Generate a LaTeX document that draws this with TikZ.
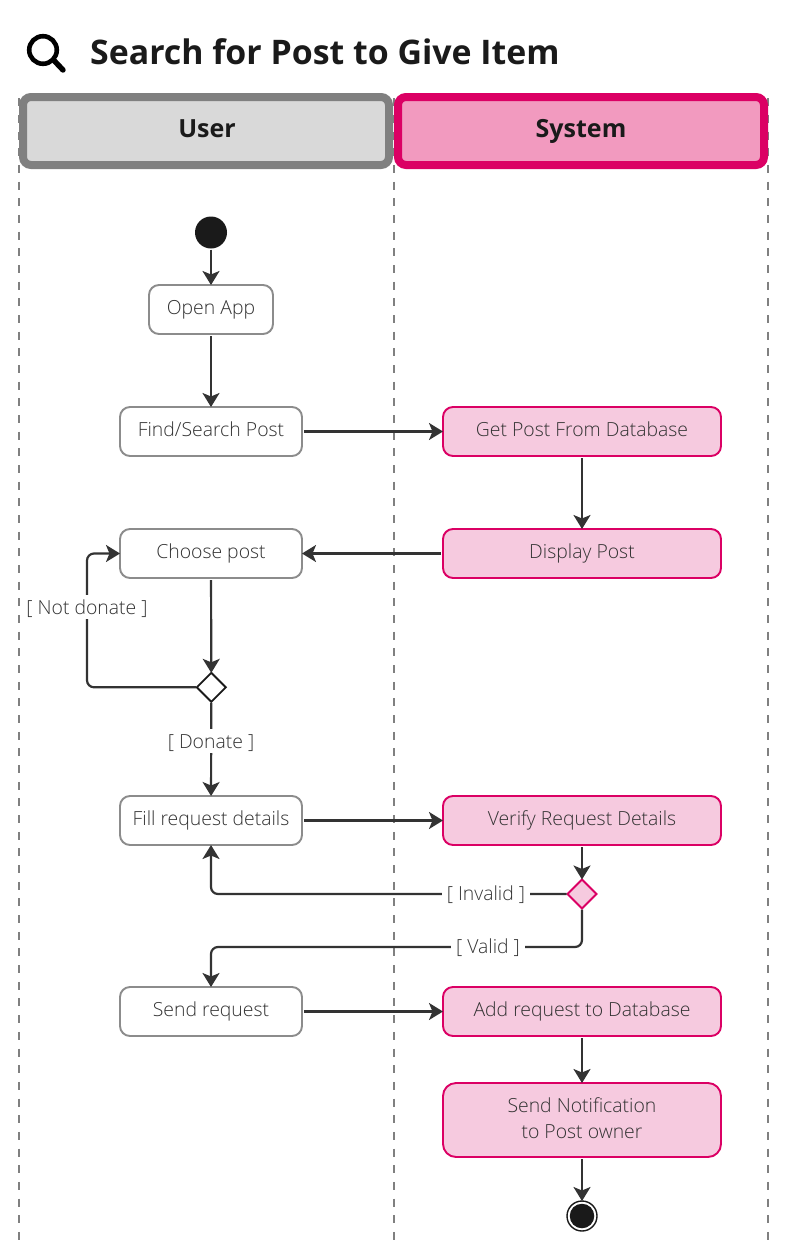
\documentclass[tikz,border=0pt]{standalone}
\usepackage{fontspec}
\setmainfont{Open Sans}
\newfontfamily\lightf{Open Sans Light}
\usetikzlibrary{arrows.meta,shapes.geometric,calc}
\definecolor{ink}{HTML}{333333}
\definecolor{txt}{HTML}{333333}
\definecolor{dark}{HTML}{1A1A1A}
\definecolor{greyb}{HTML}{808080}
\definecolor{greyf}{HTML}{D9D9D9}
\definecolor{boxb}{HTML}{8C8C8C}
\definecolor{pinkb}{HTML}{DB0064}
\definecolor{pinkh}{HTML}{F29ABF}
\definecolor{pinkf}{HTML}{F6CADF}
\tikzset{
  x=1pt,y=-1pt,
  lane/.style={draw=greyb,line width=2pt,dash pattern=on 8pt off 8.67pt},
  header/.style={rounded corners=8pt,line width=8pt,minimum height=68pt,minimum width=366pt,inner sep=0pt,outer sep=0pt,font=\fontsize{25}{30}\selectfont\bfseries,text=dark,text height=15pt,text depth=3pt},
  base/.style={rounded corners=10pt,line width=1.9pt,inner sep=0pt,outer sep=0pt,minimum height=49pt,font=\fontsize{19.4}{26}\selectfont\lightf,text=txt,align=center},
  oneline/.style={text height=14pt,text depth=4.5pt},
  ubox/.style={base,oneline,draw=boxb,fill=white,minimum width=182pt},
  sbox/.style={base,oneline,draw=pinkb,fill=pinkf,minimum width=278pt},
  sboxtwo/.style={base,draw=pinkb,fill=pinkf,minimum width=278pt},
  dia/.style={diamond,aspect=1,draw,line width=1.9pt,inner sep=0pt,outer sep=0pt,minimum width=29pt,minimum height=29pt},
  flow/.style={draw=ink,line width=2.2pt,rounded corners=7pt,-{Stealth[length=14pt,width=17pt,inset=3.5pt]}},
  guard/.style={fill=white,inner sep=0pt,inner xsep=5pt,minimum height=24pt,font=\fontsize{19.4}{22}\selectfont\lightf,text=txt,text height=16pt,text depth=2pt},
  disc/.style={circle,fill=dark,inner sep=0pt,outer sep=0pt},
}
\begin{document}
\begin{tikzpicture}
\useasboundingbox (0,0) rectangle (787,1255);
% lanes
\coordinate (l1t) at (19,98.3);   \coordinate (l1b) at (19,1240);
\coordinate (l2t) at (393.5,98.3); \coordinate (l2b) at (393.5,1240);
\coordinate (l3t) at (768,98.3);  \coordinate (l3b) at (768,1240);
\draw[lane] (l1t) -- (l1b);
\draw[lane] (l2t) -- (l2b);
\draw[lane] (l3t) -- (l3b);
% title
\node[anchor=base west,inner sep=0pt,font=\fontsize{33.85}{40}\selectfont\bfseries,text=dark] (title) at (90,64) {Search for Post to Give Item};
\coordinate (lensc) at (43,50);
\coordinate (hand1) at (54.5,61);
\coordinate (hand2) at (63,70);
\draw[black,line width=4.6pt] (lensc) circle[radius=13.8];
\draw[black,line width=5.4pt,line cap=round] (hand1) -- (hand2);
% headers
\node[header,draw=greyb,fill=greyf] (huser) at (206,131) {\hspace{2pt}User};
\node[header,draw=pinkb,fill=pinkh] (hsys) at (581,131) {System};
% nodes
\node[disc,minimum size=32pt] (start) at (211,232.5) {};
\node[ubox,minimum width=124pt] (open) at (211,309.5) {Open App};
\node[ubox] (find) at (211,431.5) {Find/Search Post};
\node[ubox] (choose) at (211,553.5) {Choose post};
\node[dia,draw=dark,fill=white] (d1) at (211.3,687.3) {};
\node[ubox] (fill) at (211,820.5) {Fill request details};
\node[ubox] (send) at (211,1011.5) {Send request};
\node[sbox] (get) at (582,431.5) {Get Post From Database};
\node[sbox] (disp) at (582,553.5) {Display Post};
\node[sbox] (verify) at (582,820.5) {Verify Request Details};
\node[dia,draw=pinkb,fill=pinkf] (d2) at (582,894) {};
\node[sbox] (add) at (582,1011.5) {Add request to Database};
\node[sboxtwo,minimum height=74pt,rounded corners=13pt,text depth=4pt] (notif) at (582,1120) {Send Notification\\to Post owner};
\node[circle,draw=dark,fill=white,line width=1.4pt,minimum size=30pt,inner sep=0pt,outer sep=0pt] (end) at (582,1216) {};
\node[disc,minimum size=24.5pt] (endc) at (end.center) {};
% connectors
\draw[flow,shorten <=1pt] (start) -- (open);
\draw[flow,shorten <=2pt] (open) -- (find);
\draw[flow,shorten <=2pt] (find) -- (get);
\draw[flow,shorten <=2pt] (get) -- (disp);
\draw[flow,shorten <=2pt] (disp) -- (choose);
\draw[flow,shorten <=2pt] (choose) -- (d1);
\coordinate (nd) at (87,607);
\draw[flow,shorten <=1pt] (d1.west) -| (nd) |- (choose.west);
\draw[flow,shorten <=1pt] (d1) -- (fill);
\draw[flow,shorten <=2pt] (fill) -- (verify);
\draw[flow,shorten <=2pt] (verify) -- (d2);
\draw[flow,shorten <=1pt] (d2.west) -| (fill.south);
\coordinate (vy) at (488,947);
\coordinate (gvpos) at (488,946);
\draw[flow,shorten <=1pt] (d2.south) |- (vy) -| (send.north);
\draw[flow,shorten <=2pt] (send) -- (add);
\draw[flow,shorten <=2pt] (add) -- (notif);
\draw[flow,shorten <=2pt] (notif) -- (end);
% guards
\node[guard] (gnd) at (nd) {[ Not donate ]};
\node[guard] (gd) at (211,741) {[ Donate ]};
\node[guard] (gi) at (486,893) {[ Invalid ]};
\node[guard] (gv) at (gvpos) {[ Valid ]};
\end{tikzpicture}
\end{document}
